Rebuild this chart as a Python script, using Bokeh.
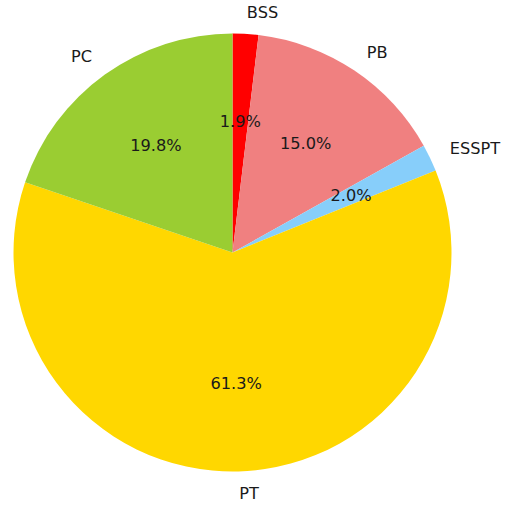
import math
from bokeh.plotting import figure
from bokeh.models import Range1d, ColumnDataSource
from bokeh.core.properties import value
from bokeh.embed import file_html
from bokeh.resources import INLINE

# data (clockwise from the top)
labels = ["BSS", "PB", "ESSPT", "PT", "PC"]
shares = [1.9, 15.0, 2.0, 61.3, 19.8]
colors = ["red", "lightcoral", "lightskyblue", "gold", "yellowgreen"]

W, H = 512, 503
R = 219.0              # pie radius in px
CX, CY = 232.0, 252.0  # centre in figure px (from left, from top)

p = figure(width=W, height=H, output_backend="svg", toolbar_location=None,
           x_range=Range1d(-CX / R, (W - CX) / R),
           y_range=Range1d(-(H - CY) / R, CY / R),
           min_border=0)
p.axis.visible = False
p.grid.visible = False
p.outline_line_color = None
p.background_fill_color = "white"
p.border_fill_color = "white"

total = sum(shares)
starts, ends, mids = [], [], []
cum = 0.0
for s in shares:
    a0 = math.pi / 2 - 2 * math.pi * cum / total
    cum += s
    a1 = math.pi / 2 - 2 * math.pi * cum / total
    starts.append(a1)
    ends.append(a0)
    mids.append((a0 + a1) / 2)

src = ColumnDataSource(dict(start=starts, end=ends, color=colors))
p.wedge(x=0, y=0, radius=1.0, start_angle="start", end_angle="end",
        fill_color="color", line_color=None, source=src)

lx = [1.1 * math.cos(m) for m in mids]
ly = [1.1 * math.sin(m) for m in mids]
align = ["left" if x > 0 else "right" for x in lx]
px = [0.6 * math.cos(m) for m in mids]
py = [0.6 * math.sin(m) for m in mids]
pct = ["%.1f%%" % (100 * s / total) for s in shares]

lsrc = ColumnDataSource(dict(x=lx, y=ly, t=labels, a=align))
p.text(x="x", y="y", text="t", text_align="a", text_baseline="middle",
       text_font=value("DejaVu Sans"), text_font_size="16.2px",
       text_color="#1a1a1a", source=lsrc)

psrc = ColumnDataSource(dict(x=px, y=py, t=pct))
p.text(x="x", y="y", text="t", text_align="center", text_baseline="middle",
       text_font=value("DejaVu Sans"), text_font_size="16.2px",
       text_color="#1a1a1a", source=psrc)

open("out.html", "w").write(file_html(p, INLINE))
